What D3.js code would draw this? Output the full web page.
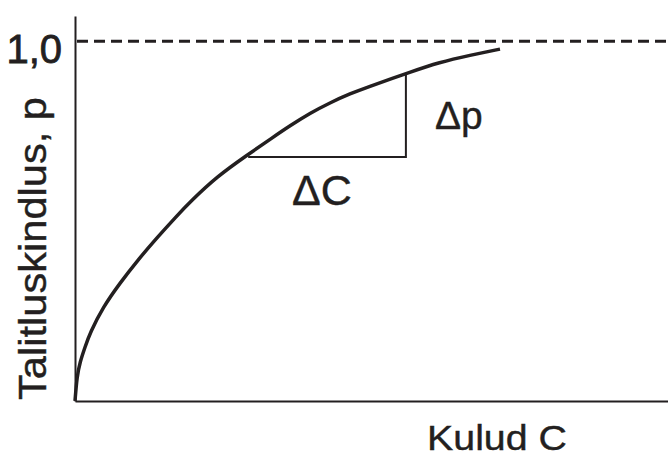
<!DOCTYPE html>
<html>
<head>
<meta charset="utf-8">
<script src="https://cdn.jsdelivr.net/npm/d3@7"></script>
<style>
  body { margin: 0; background: #fff; }
  svg { display: block; }
  svg text { font-family: "Liberation Sans", Arial, sans-serif; stroke: #231f20; stroke-width: 0.4px; }
</style>
</head>
<body>
<div id="chart"></div>
<script>
// curve: costs C (0..100) vs reliability p
const costC = [0, 0.34, 0.84, 1.69, 2.53, 4.72, 7.59, 10.46, 13.83, 17.2, 19.39, 23.95, 29.01, 33.39, 36.26, 39.63, 43.0, 46.37, 49.75, 53.12, 55.99, 61.55, 66.61, 71.67]
const probP = [0, 0.069, 0.108, 0.15, 0.189, 0.261, 0.328, 0.389, 0.454, 0.515, 0.553, 0.624, 0.683, 0.733, 0.765, 0.8, 0.829, 0.854, 0.875, 0.894, 0.911, 0.942, 0.961, 0.978]

// the delta triangle (C, p)
const triC = [29.2, 55.8, 55.8]
const triP = [0.678, 0.678, 0.911]

const yTicks = [1]
const yTickLabels = ['1,0']

const width = 668, height = 456
const margin = {top: 16, right: 0, bottom: 55, left: 75}

const svg = d3.select('#chart').append('svg')
  .attr('width', width)
  .attr('height', height)

const x = d3.scaleLinear()
  .domain([0, 100])
  .range([margin.left, width - margin.right])

const y = d3.scaleLinear()
  .domain([0, 1.07])
  .range([height - margin.bottom, margin.top])

const ink = '#231f20'

// axes: plain lines, no ticks
const yAxis = svg.append('g')
  .attr('transform', 'translate(' + margin.left + ',0)')
  .call(d3.axisLeft(y).tickValues([]).tickSizeOuter(0))
yAxis.select('.domain').attr('stroke', ink).attr('stroke-width', 2)

const xAxis = svg.append('g')
  .attr('transform', 'translate(0,' + y(0) + ')')
  .call(d3.axisBottom(x).tickValues([]).tickSizeOuter(0))
xAxis.select('.domain').attr('stroke', ink).attr('stroke-width', 2)

// the 1,0 label
svg.selectAll('.ylab')
  .data(yTicks)
  .join('text')
  .attr('class', 'ylab')
  .attr('x', margin.left - 13)
  .attr('y', d => y(d) + 22)
  .attr('text-anchor', 'end')
  .attr('font-size', 40)
  .style('stroke-width', '0.8px')
  .attr('fill', ink)
  .text((d, i) => yTickLabels[i])

// dashed asymptote at p = 1
svg.append('line')
  .attr('x1', x(0) + 2)
  .attr('x2', x(100))
  .attr('y1', y(1))
  .attr('y2', y(1))
  .attr('stroke', ink)
  .attr('stroke-width', 3)
  .attr('stroke-dasharray', '11,6')

// the curve
const pts = costC.map((c, i) => [c, probP[i]])
svg.append('path')
  .datum(pts)
  .attr('fill', 'none')
  .attr('stroke', ink)
  .attr('stroke-width', 3.5)
  .attr('d', d3.line().x(d => x(d[0])).y(d => y(d[1])).curve(d3.curveBasis))

// triangle
const tri = triC.map((c, i) => [c, triP[i]])
svg.append('path')
  .datum(tri)
  .attr('fill', 'none')
  .attr('stroke', ink)
  .attr('stroke-width', 2)
  .attr('d', d3.line().x(d => x(d[0])).y(d => y(d[1])))

// labels
svg.append('text')
  .attr('x', 292).attr('y', 205)
  .attr('font-size', 43)
  .attr('fill', ink)
  .text('ΔC')

svg.append('text')
  .attr('x', 435).attr('y', 129)
  .attr('font-size', 39)
  .attr('fill', ink)
  .text('Δp')

svg.append('text')
  .attr('x', 427).attr('y', 450)
  .attr('font-size', 35)
  .attr('textLength', 140)
  .attr('lengthAdjust', 'spacingAndGlyphs')
  .attr('fill', ink)
  .text('Kulud C')

svg.append('text')
  .attr('transform', 'translate(46,400) rotate(-90)')
  .attr('font-size', 38)
  .attr('textLength', 303)
  .attr('lengthAdjust', 'spacingAndGlyphs')
  .attr('fill', ink)
  .text('Talitluskindlus, p')
</script>
</body>
</html>
